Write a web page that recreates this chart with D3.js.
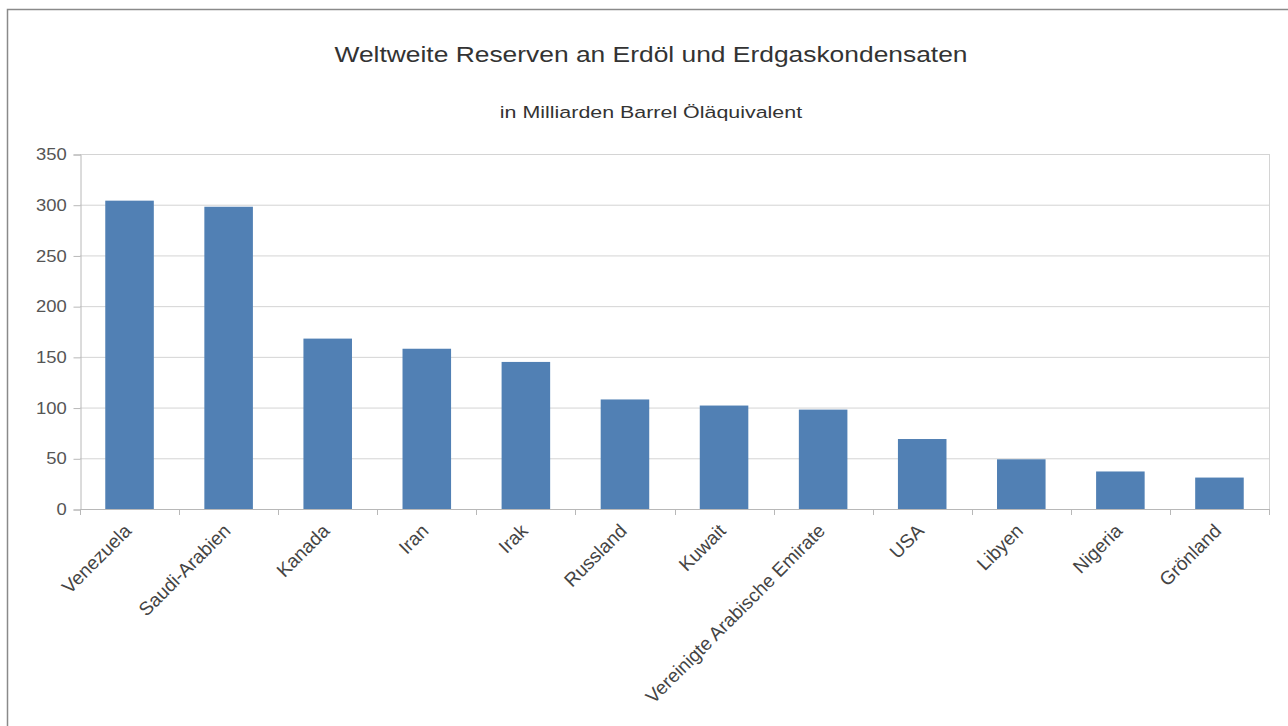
<!DOCTYPE html>
<html>
<head>
<meta charset="utf-8">
<script src="https://cdn.jsdelivr.net/npm/d3@7"></script>
<style>
  html, body { margin: 0; padding: 0; background: #fff; }
  svg { display: block; font-family: "Liberation Sans", Arial, sans-serif; }
</style>
</head>
<body>
<svg id="chart" width="1288" height="726"></svg>
<script>
// Reserves of crude oil and condensate, billion barrels of oil equivalent
const countries = ["Venezuela", "Saudi-Arabien", "Kanada", "Iran", "Irak", "Russland",
  "Kuwait", "Vereinigte Arabische Emirate", "USA", "Libyen", "Nigeria", "Grönland"];
const reserves = [304, 298, 168, 158, 145, 108, 102, 98, 69, 49, 37, 31];
const yTicks = [0, 50, 100, 150, 200, 250, 300, 350];

const title = "Weltweite Reserven an Erdöl und Erdgaskondensaten";
const subtitle = "in Milliarden Barrel Öläquivalent";

const svg = d3.select("#chart");
const W = 1288, H = 726;
const plot = { left: 80, right: 1269, top: 154, bottom: 509 };

// outer frame
svg.append("rect")
  .attr("x", 7.5).attr("y", 9.5)
  .attr("width", W + 10).attr("height", H + 10)
  .attr("fill", "#fff").attr("stroke", "#8a8a8a").attr("stroke-width", 1.5);

// headings (slightly widened lettering)
svg.append("text")
  .attr("transform", "translate(651,62) scale(1.2,1)")
  .attr("text-anchor", "middle")
  .attr("font-size", 22).attr("fill", "#333")
  .text(title);

svg.append("text")
  .attr("transform", "translate(651,118) scale(1.26,1)")
  .attr("text-anchor", "middle")
  .attr("font-size", 17).attr("fill", "#333")
  .text(subtitle);

const x = d3.scaleBand().domain(countries).range([plot.left, plot.right]).padding(0);
const y = d3.scaleLinear().domain([0, 350]).range([plot.bottom, plot.top]);

// horizontal grid
svg.append("g").selectAll("line").data(yTicks).join("line")
  .attr("x1", plot.left).attr("x2", plot.right)
  .attr("y1", d => y(d) + 0.5).attr("y2", d => y(d) + 0.5)
  .attr("stroke", "#d4d4d4").attr("stroke-width", 1);

// right border of plot area
svg.append("line")
  .attr("x1", plot.right + 0.5).attr("x2", plot.right + 0.5)
  .attr("y1", plot.top).attr("y2", plot.bottom)
  .attr("stroke", "#d4d4d4");

// bars
const barFrac = 0.49;
svg.append("g").selectAll("rect").data(reserves).join("rect")
  .attr("x", (d, i) => x(countries[i]) + x.bandwidth() * (1 - barFrac) / 2)
  .attr("width", x.bandwidth() * barFrac)
  .attr("y", d => y(d))
  .attr("height", d => y(0) - y(d))
  .attr("fill", "#5180b4");

// y axis
const yAxis = d3.axisLeft(y).tickValues(yTicks).tickSize(7).tickPadding(5);
const gy = svg.append("g")
  .attr("transform", `translate(${plot.left + 0.5},0.5)`)
  .call(yAxis);
gy.select(".domain").attr("stroke", "#b8b8b8");
gy.selectAll(".tick line").attr("stroke", "#b8b8b8");
gy.selectAll(".tick text")
  .attr("font-size", 16).attr("fill", "#555")
  .attr("font-family", "Liberation Sans, Arial, sans-serif")
  .attr("transform", "scale(1.15,1)");

// x axis: ticks at category boundaries
const xAxisLine = svg.append("g");
xAxisLine.append("line")
  .attr("x1", plot.left).attr("x2", plot.right)
  .attr("y1", plot.bottom + 0.5).attr("y2", plot.bottom + 0.5)
  .attr("stroke", "#b8b8b8");
const bounds = countries.map(c => x(c)).concat([x.range()[1]]);
xAxisLine.selectAll("line.tk").data(bounds).join("line")
  .attr("class", "tk")
  .attr("x1", d => Math.round(d) + 0.5).attr("x2", d => Math.round(d) + 0.5)
  .attr("y1", plot.bottom).attr("y2", plot.bottom + 6)
  .attr("stroke", "#b8b8b8");

// rotated category labels
svg.append("g").selectAll("text").data(countries).join("text")
  .attr("transform", d => `translate(${x(d) + x.bandwidth() / 2 + 3},${plot.bottom + 23}) rotate(-45)`)
  .attr("text-anchor", "end")
  .attr("font-size", 19).attr("fill", "#444")
  .text(d => d);
</script>
</body>
</html>
